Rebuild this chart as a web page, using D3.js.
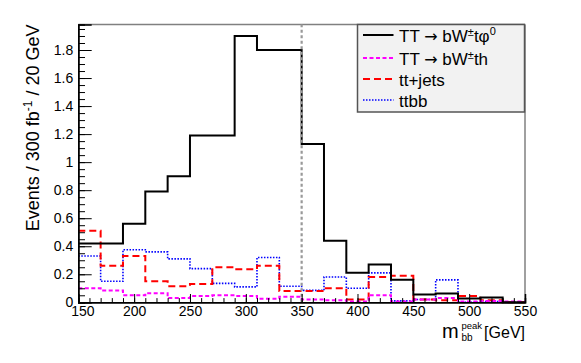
<!DOCTYPE html>
<html>
<head>
<meta charset="utf-8">
<script src="https://cdn.jsdelivr.net/npm/d3@7"></script>
<style>
  body { margin: 0; background: #fff; }
  svg text { font-family: "Liberation Sans", Arial, Helvetica, sans-serif; fill: #000; }
</style>
</head>
<body>
<div id="chart"></div>
<script>
// bin lower edges (20 GeV bins)
var binLow = [150, 170, 190, 210, 230, 250, 270, 290, 310, 330,
              350, 370, 390, 410, 430, 450, 470, 490, 510, 530];
var binWidth = 20;

// events per bin
var sigPhi = [0.42, 0.42, 0.56, 0.79, 0.90, 1.19, 1.19, 1.90, 1.80, 1.80,
              1.13, 0.44, 0.21, 0.27, 0.16, 0.055, 0.063, 0.027, 0.034, 0];
var sigH   = [0.10, 0.085, 0.05, 0.065, 0.03, 0.045, 0.05, 0.045, 0.025, 0.04,
              0.02, 0.015, 0.005, 0.05, 0.005, 0.02, 0.03, 0.005, 0.01, 0.005];
var ttJets = [0.51, 0.26, 0.33, 0.15, 0.115, 0.13, 0.25, 0.235, 0.26, 0.08,
              0.08, 0.10, 0.02, 0.18, 0.19, 0.02, 0.015, 0.045, 0.015, 0];
var ttbb   = [0.33, 0.15, 0.375, 0.36, 0.31, 0.24, 0.135, 0.11, 0.32, 0.115,
              0.085, 0.18, 0.10, 0.21, 0.01, 0.02, 0.16, 0.0, 0.005, 0];

var cutValue = 350;
var xTicks = [150, 200, 250, 300, 350, 400, 450, 500, 550];
var yTicks = [0, 0.2, 0.4, 0.6, 0.8, 1, 1.2, 1.4, 1.6, 1.8];

var width = 581, height = 363;
var margin = {top: 24.5, right: 56, bottom: 60.7, left: 78.3};

var svg = d3.select("#chart").append("svg")
    .attr("width", width)
    .attr("height", height);

var x = d3.scaleLinear()
    .domain([150, 550])
    .range([margin.left, width - margin.right]);

var y = d3.scaleLinear()
    .domain([0, 1.982])
    .range([height - margin.bottom, margin.top]);

//frame top and right edges
svg.append("line")
    .attr("x1", x(150)).attr("x2", x(550))
    .attr("y1", y.range()[1]).attr("y2", y.range()[1])
    .attr("stroke", "#808080").attr("stroke-width", 1.5);
svg.append("line")
    .attr("x1", x(550)).attr("x2", x(550))
    .attr("y1", y.range()[0]).attr("y2", y.range()[1])
    .attr("stroke", "#808080").attr("stroke-width", 1.5);

// histograms
var series = [
    {values: ttbb,   color: "#0000ff", dash: "1.5,1.5", w: 1.6},
    {values: ttJets, color: "#ff0000", dash: "7,4",     w: 2},
    {values: sigH,   color: "#ff00ff", dash: "4,2.5",   w: 2},
    {values: sigPhi, color: "#000000", dash: null,      w: 2}
];

var stepLine = d3.line()
    .x(function (d) { return x(d[0]); })
    .y(function (d) { return y(d[1]); })
    .curve(d3.curveStepAfter);

series.forEach(function (s) {
    var pts = binLow.map(function (b, i) { return [b, s.values[i]]; });
    pts.push([binLow[binLow.length - 1] + binWidth, s.values[s.values.length - 1]]);
    svg.append("path")
        .attr("d", stepLine(pts))
        .attr("fill", "none")
        .attr("stroke", s.color)
        .attr("stroke-width", s.w)
        .attr("stroke-dasharray", s.dash);
});

// cut line
svg.append("line")
    .attr("x1", x(cutValue)).attr("x2", x(cutValue))
    .attr("y1", y(0)).attr("y2", y.range()[1])
    .attr("stroke", "#999999")
    .attr("stroke-width", 2.2)
    .attr("stroke-dasharray", "3,2.5");

// y axis
var yMinor = svg.append("g")
    .attr("transform", "translate(" + margin.left + ",0)")
    .call(d3.axisLeft(y).tickValues(d3.range(0, 1.98, 0.05)).tickSize(-6.7).tickFormat(""));
var yAxis = svg.append("g")
    .attr("transform", "translate(" + margin.left + ",0)")
    .call(d3.axisLeft(y).tickValues(yTicks).tickSize(-13.4).tickPadding(5)
        .tickFormat(function (d) { return d3.format("")(+d.toFixed(1)); }));

// x axis
var xMinor = svg.append("g")
    .attr("transform", "translate(0," + y(0) + ")")
    .call(d3.axisBottom(x).tickValues(d3.range(150, 551, 10)).tickSize(-4.2).tickFormat(""));
var xAxis = svg.append("g")
    .attr("transform", "translate(0," + y(0) + ")")
    .call(d3.axisBottom(x).tickValues(xTicks).tickSize(-8.3).tickPadding(4));

[yMinor, yAxis, xMinor, xAxis].forEach(function (g) {
    g.select(".domain").attr("stroke", "#000").attr("stroke-width", 1.5);
    g.selectAll(".tick line").attr("stroke", "#000").attr("stroke-width", 1);
    g.selectAll("text").attr("font-size", 14).attr("font-family", "Liberation Sans, Arial, sans-serif");
});
xAxis.selectAll("text").attr("dy", "0.71em");
// first x label shifted right as in the original
xAxis.selectAll(".tick text").filter(function (d) { return d === 150; }).attr("dx", 4);

// y title
var yTitle = svg.append("text")
    .attr("transform", "translate(39," + margin.top + ") rotate(-90)")
    .attr("text-anchor", "end")
    .attr("font-size", 18);
yTitle.append("tspan").text("Events / 300 fb");
yTitle.append("tspan").attr("font-size", 12).attr("dy", -7).text("-1");
yTitle.append("tspan").attr("dy", 7).text(" / 20 GeV");

// x title
svg.append("text").attr("x", 442).attr("y", 338).attr("font-size", 20).text("m");
svg.append("text").attr("x", 461.5).attr("y", 328.5).attr("font-size", 9.5).text("peak");
svg.append("text").attr("x", 461.5).attr("y", 340.5).attr("font-size", 10).text("bb");
svg.append("text").attr("x", 525).attr("y", 338).attr("font-size", 16)
    .attr("text-anchor", "end").text("[GeV]");

// legend
var legend = svg.append("g");
legend.append("rect")
    .attr("x", 357.5).attr("y", 24.5)
    .attr("width", 167).attr("height", 87.5)
    .attr("fill", "#f2f2f2")
    .attr("stroke", "#555").attr("stroke-width", 1.5);

var legendRows = [
    {color: "#000000", dash: null,      w: 2,   y: 35,  base: 42},
    {color: "#ff00ff", dash: "4,2.5",   w: 2,   y: 58,  base: 64.5},
    {color: "#ff0000", dash: "7,4",     w: 2,   y: 79,  base: 85.5},
    {color: "#0000ff", dash: "1.5,1.5", w: 1.6, y: 100, base: 107}
];
legendRows.forEach(function (r) {
    legend.append("line")
        .attr("x1", 363).attr("x2", 393.5)
        .attr("y1", r.y).attr("y2", r.y)
        .attr("stroke", r.color).attr("stroke-width", r.w)
        .attr("stroke-dasharray", r.dash);
});

function arrowLabel(t, tail) {
    t.append("tspan").text("TT ");
    t.append("tspan").attr("font-family", "DejaVu Sans").attr("font-size", 16).text("\u2192");
    t.append("tspan").text(" bW");
    t.append("tspan").attr("font-size", 11).attr("dy", -6).text("\u00b1");
    t.append("tspan").attr("dy", 6).text(tail);
}

var t1 = legend.append("text").attr("x", 399).attr("y", legendRows[0].base).attr("font-size", 17);
arrowLabel(t1, "t\u03c6");
t1.append("tspan").attr("font-size", 11).attr("dy", -7).text("0");

var t2 = legend.append("text").attr("x", 399).attr("y", legendRows[1].base).attr("font-size", 17);
arrowLabel(t2, "th");

legend.append("text").attr("x", 399).attr("y", legendRows[2].base).attr("font-size", 17).text("tt+jets");
legend.append("text").attr("x", 399).attr("y", legendRows[3].base).attr("font-size", 17).text("ttbb");
</script>
</body>
</html>
